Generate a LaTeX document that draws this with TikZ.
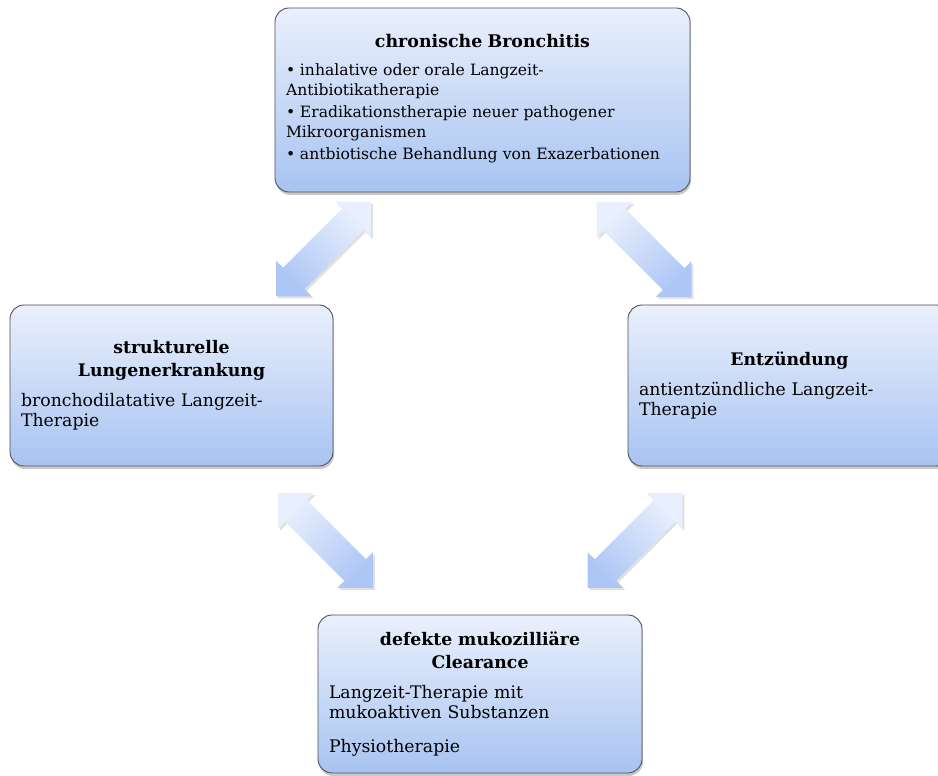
\documentclass[tikz,border=0pt]{standalone}
\usepackage{fontspec}
\setmainfont{DejaVu Serif}
\usetikzlibrary{shapes.arrows,shadows}

\definecolor{boxtop}{RGB}{234,240,252}
\definecolor{boxbot}{RGB}{168,195,241}
\definecolor{boxline}{RGB}{80,80,85}
\definecolor{arrtop}{RGB}{233,240,253}
\definecolor{arrbot}{RGB}{174,198,245}

\newcommand{\boxtitle}[1]{{\centering\bfseries\baselineskip=23pt #1\par}\vspace{9pt}}
\newcommand{\bitem}[1]{\hangindent=14pt\hangafter=1\noindent\makebox[14pt][l]{\textbullet}#1\par\vspace{3pt}}

\begin{document}
\begin{tikzpicture}[x=1pt,y=1pt,
  every node/.style={font=\fontsize{17.3}{20.5}\selectfont},
  infobox/.style={rectangle,rounded corners=14pt,draw=boxline,line width=0.9pt,
    top color=boxtop,bottom color=boxbot,
    drop shadow={shadow xshift=1pt,shadow yshift=-3pt,opacity=0.3,fill=black!70},
    align=left,inner xsep=11pt,inner ysep=6pt},
  dblarrow/.style={double arrow,double arrow head extend=10pt,
    minimum height=134pt,inner xsep=0pt,inner ysep=15pt,draw=none,
    top color=arrtop,bottom color=arrbot,rotate=#1,shading angle=-#1,
    drop shadow={shadow xshift=2pt,shadow yshift=-2pt,opacity=0.2,fill=black!60}}]
\useasboundingbox (0,0) rectangle (938,776);

% boxes
\node[infobox,text width=393pt,minimum height=184pt,font=\fontsize{15.6}{19.5}\selectfont]
  (bronch) at (482.5,676) {%
  \boxtitle{\fontsize{17.4}{22}\selectfont chronische Bronchitis}
  \bitem{inhalative oder orale Langzeit-\\Antibiotikatherapie}
  \bitem{Eradikationstherapie neuer pathogener\\Mikroorganismen}
  \bitem{antbiotische Behandlung von Exazerbationen}\vspace{14pt}};
\node[infobox,text width=301pt,minimum height=161pt] (lunge) at (171.5,390.5) {%
  \boxtitle{strukturelle\\Lungenerkrankung}
  bronchodilatative Langzeit-\\Therapie};
\node[infobox,text width=301pt,minimum height=161pt] (entz) at (789.5,390.5) {%
  \boxtitle{Entzündung}
  antientzündliche Langzeit-\\Therapie};
\node[infobox,text width=302pt,minimum height=158pt] (clear) at (480,82) {%
  \boxtitle{defekte mukozilliäre\\Clearance}
  Langzeit-Therapie mit\\mukoaktiven Substanzen\par\vspace{13pt}
  Physiotherapie};

% block arrows
\node[dblarrow=45] (bl) at (323.5,527) {};
\node[dblarrow=-45] (be) at (644,526.5) {};
\node[dblarrow=-45] (lc) at (325.5,235.5) {};
\node[dblarrow=45] (ec) at (635,235.5) {};
\end{tikzpicture}
\end{document}
